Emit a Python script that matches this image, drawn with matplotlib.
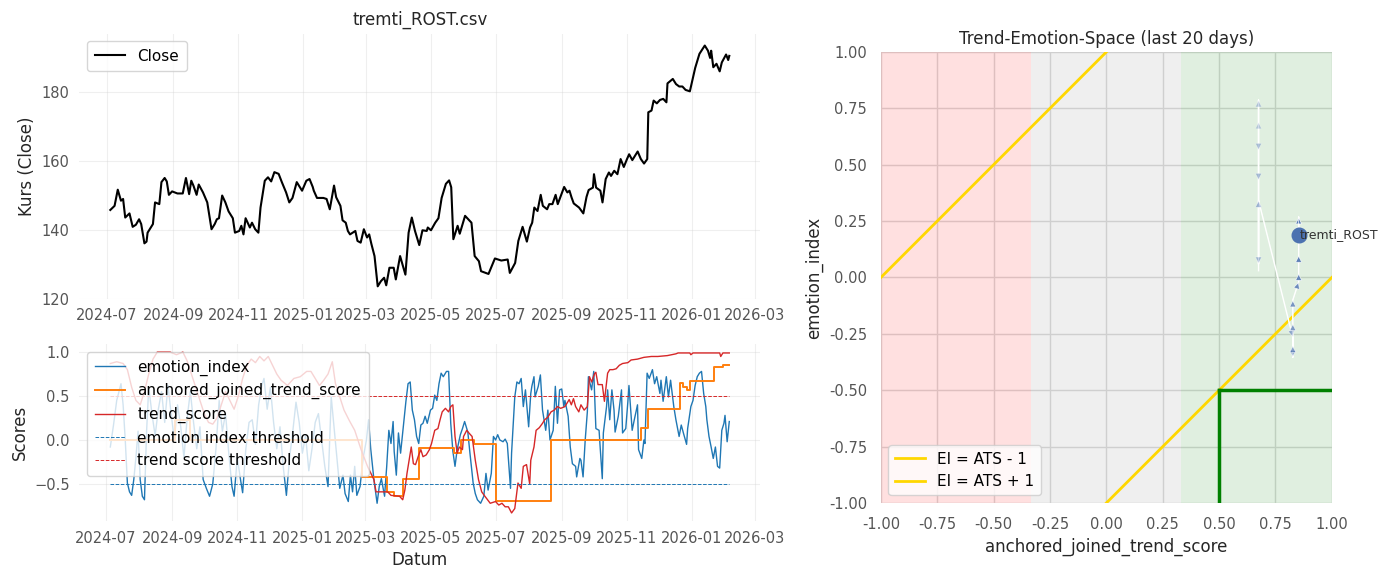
import matplotlib
matplotlib.use('Agg')
import matplotlib.pyplot as plt
import matplotlib.dates as mdates
import numpy as np
import pandas as pd

plt.rcParams['font.family'] = ['DejaVu Sans']

base = pd.Timestamp('2024-07-01')

# Kurs (Close): Tage seit base, Werte
close_day = [3, 7, 10, 13, 15, 17, 21, 24, 27, 30, 32, 35, 37, 38, 43, 45, 49, 51, 54, 56, 58, 61, 66, 71, 74, 77,
             79, 81, 84, 86, 90, 94, 98, 101, 103, 105, 108, 111, 114, 118, 120, 124, 126, 128, 130, 134, 136, 139,
             142, 144, 148, 151, 154, 157, 161, 164, 168, 171, 174, 178, 183, 187, 190, 193, 194, 197, 203, 206,
             209, 213, 215, 219, 221, 224, 226, 228, 233, 235, 238, 241, 244, 246, 248, 251, 254, 257, 260, 262,
             265, 269, 271, 275, 280, 283, 286, 289, 293, 296, 300, 301, 304, 308, 311, 314, 318, 321, 323, 325,
             329, 331, 336, 339, 342, 345, 349, 351, 358, 364, 370, 376, 378, 383, 386, 390, 394, 397, 399, 401,
             404, 407, 409, 413, 415, 418, 421, 423, 429, 432, 434, 436, 438, 443, 447, 450, 452, 456, 457, 459,
             463, 465, 468, 471, 473, 476, 479, 482, 485, 488, 490, 493, 498, 501, 504, 507, 508, 511, 513, 516,
             519, 522, 525, 526, 531, 534, 537, 540, 543, 547, 550, 552, 556, 561, 564, 566, 567, 569, 572, 575,
             577, 581, 583, 584]
close_val = [145.8, 147.0, 151.7, 148.5, 149.0, 143.6, 144.8, 140.9, 141.5, 143.1, 141.7, 136.1, 136.6, 139.2,
             141.7, 148.0, 147.5, 153.9, 155.1, 154.1, 150.2, 151.2, 150.6, 150.6, 155.1, 150.4, 154.3, 152.9,
             150.2, 153.2, 150.9, 148.0, 140.2, 141.7, 143.1, 143.4, 150.0, 148.0, 145.4, 143.4, 139.2, 139.7,
             141.2, 138.7, 143.4, 140.7, 142.1, 140.2, 139.2, 146.5, 154.3, 155.3, 154.1, 156.8, 156.3, 153.9,
             150.9, 148.0, 149.3, 153.9, 151.4, 154.3, 154.8, 152.5, 151.4, 149.3, 149.3, 149.0, 146.0, 152.9,
             149.5, 147.0, 142.8, 142.1, 139.7, 138.7, 139.7, 136.8, 136.3, 140.2, 137.8, 138.7, 136.0, 132.4,
             123.6, 125.1, 126.1, 123.9, 129.0, 129.0, 125.6, 132.4, 127.0, 139.2, 143.6, 139.7, 135.6, 139.9,
             139.7, 140.7, 139.9, 142.1, 143.4, 149.3, 153.4, 154.4, 152.4, 137.3, 141.2, 138.9, 144.1, 143.1,
             142.1, 132.4, 130.9, 128.0, 127.2, 131.7, 131.1, 131.4, 127.5, 130.4, 136.8, 140.9, 136.6, 140.7,
             142.1, 146.5, 145.5, 150.2, 147.0, 146.0, 147.5, 147.5, 150.2, 147.5, 152.5, 150.9, 151.4, 149.4,
             147.7, 146.5, 144.8, 149.6, 151.6, 152.3, 156.2, 152.3, 151.4, 148.0, 154.8, 156.7, 155.7, 157.2,
             156.2, 160.6, 158.3, 160.6, 162.0, 160.3, 162.8, 160.6, 159.3, 160.6, 174.2, 174.7, 177.6, 176.8,
             177.8, 178.1, 177.1, 182.6, 183.9, 182.4, 181.7, 181.7, 180.7, 180.3, 184.4, 187.1, 191.2, 193.6,
             192.1, 190.0, 192.1, 187.3, 188.3, 186.1, 188.7, 191.0, 189.4, 190.6]

# emotion_index
ei_day = [4, 7, 10, 14, 16, 18, 20, 22, 24, 26, 28, 30, 32, 34, 36, 38, 40, 43, 46, 49, 52, 55, 58, 61, 64, 67,
          70, 73, 76, 79, 82, 85, 88, 91, 94, 97, 100, 103, 106, 109, 112, 115, 118, 120, 123, 126, 128, 131, 134,
          137, 140, 143, 146, 148, 151, 154, 157, 160, 163, 166, 169, 172, 175, 178, 181, 184, 187, 190, 193, 196,
          199, 202, 205, 208, 211, 214, 217, 219, 222, 224, 227, 229, 231, 233, 235, 238, 241, 244, 246, 248,
          251, 254, 256, 258, 261, 263, 265, 267, 269, 270, 272, 274, 276, 279, 281, 283, 285, 287, 289, 291,
          293, 295, 297, 299, 301, 304, 306, 308, 310, 312, 314, 316, 319, 321, 323, 325, 327, 329, 332, 334,
          336, 339, 341, 344, 346, 348, 351, 354, 356, 358, 361, 363, 365, 367, 369, 372, 374, 376, 379, 380,
          383, 385, 387, 389, 391, 393, 396, 398, 399, 401, 402, 405, 407, 409, 412, 414, 416, 419, 421, 423,
          425, 427, 429, 430, 433, 435, 437, 440, 441, 444, 445, 447, 449, 451, 452, 455, 457, 459, 462, 463,
          465, 466, 469, 470, 472, 474, 476, 477, 480, 483, 484, 487, 489, 490, 493, 495, 498, 499, 502, 504,
          505, 507, 509, 512, 514, 516, 519, 520, 522, 525, 527, 529, 532, 534, 537, 539, 541, 544, 545, 548,
          550, 552, 554, 556, 558, 560, 562, 563, 565, 567, 569, 571, 573, 575, 577, 579, 580, 582, 584]
ei_val = [-0.08, 0.17, 0.45, 0.64, 0.40, 0.00, -0.49, -0.59, -0.63, -0.45, -0.20, 0.10, -0.45, -0.64, -0.68,
          0.10, 0.60, 0.30, 0.05, 0.35, 0.55, 0.20, 0.62, 0.30, 0.00, 0.40, 0.15, -0.20, 0.25, 0.55, 0.20, -0.10,
          0.15, -0.45, -0.55, -0.64, -0.50, -0.10, 0.45, 0.10, 0.30, -0.15, -0.53, -0.64, -0.20, -0.45, -0.60,
          -0.10, 0.20, 0.23, -0.05, 0.40, 0.62, 0.70, 0.35, 0.60, 0.20, -0.10, 0.15, -0.30, -0.63, -0.20, 0.10,
          0.43, 0.20, -0.15, 0.05, -0.35, -0.10, 0.20, 0.30, 0.00, -0.30, -0.53, 0.49, 0.10, -0.30, -0.55, -0.40,
          -0.61, -0.70, -0.40, -0.59, -0.30, -0.63, -0.53, -0.20, 0.00, 0.23, -0.10,
          -0.45, -0.72, -0.53, -0.44, -0.64, -0.30, 0.11, -0.04, 0.21, -0.13, -0.40, 0.08, -0.15, 0.21, 0.44,
          0.64, 0.66, 0.34, 0.23, 0.04, -0.04, 0.17, 0.19, 0.27, 0.19, 0.34, 0.36, 0.51, 0.45, 0.64, 0.76, 0.72,
          0.78, 0.78, 0.19, -0.13, -0.30, -0.11, 0.06, 0.13, 0.21, 0.09, -0.15, -0.49, -0.61, -0.68, -0.72,
          -0.64, -0.38, -0.57, -0.38, 0.04, 0.00, 0.06, 0.00, -0.02, 0.01, -0.04, -0.55, -0.15, 0.49, 0.66, 0.64,
          0.70, 0.38, 0.57, 0.15, 0.53, 0.61, 0.72, 0.49, 0.61, 0.74, 0.34, 0.11, 0.34, 0.00, 0.11, 0.61, 0.19,
          0.57, 0.58, 0.38, 0.45, 0.27, -0.08, -0.27, -0.30, -0.42, -0.21, -0.23, -0.42, 0.00, 0.32, 0.72, 0.57,
          0.78, 0.13, 0.11, -0.08, -0.44, 0.08, 0.38, 0.57, 0.23, 0.57, 0.34, 0.09, 0.27, 0.57, 0.08, 0.13, 0.44,
          0.62, 0.11, 0.23, 0.40, -0.11, -0.21, 0.00, -0.04, 0.76, 0.70, 0.80, 0.64, 0.72, 0.53, 0.68, 0.44, 0.72,
          0.49, 0.68, 0.38, 0.23, 0.04, 0.17, 0.08, -0.05, 0.13, 0.38, 0.45, 0.62, 0.72, 0.76, 0.78, 0.53, 0.38,
          0.23, 0.04, -0.08, -0.21, -0.08, -0.30, -0.32, 0.11, 0.19, 0.28, -0.02, 0.21]

# trend_score
ts_day = [4, 10, 16, 20, 24, 28, 32, 36, 40, 44, 48, 60, 66, 72, 76, 80, 84, 88, 92, 96, 100, 104, 108, 112, 116,
          120, 124, 128, 132, 136, 140, 144, 148, 152, 156, 160, 164, 170, 176, 182, 188, 192, 196, 200, 204, 208,
          212, 215, 220, 223, 228, 233, 239, 245, 251, 253, 259, 264, 267, 275, 278, 280, 282, 285, 286, 288, 290,
          293, 295, 297, 300, 303, 305, 308, 311, 313, 315, 318, 321, 323, 325, 327, 329, 331, 334, 335, 338, 340,
          343, 346, 349, 352, 355, 360, 365, 368, 371, 374, 377, 380, 383, 386, 389, 391, 394, 397, 398, 401, 403,
          406, 409, 411, 414, 417, 420, 423, 426, 430, 432, 434, 436, 438, 440, 443, 445, 448, 451, 453, 455, 458,
          459, 461, 465, 467, 470, 472, 475, 478, 481, 484, 489, 492, 498, 504, 511, 517, 526, 534, 536, 547, 548,
          550, 575, 576, 578, 584]
ts_val = [0.87, 0.89, 0.87, 0.80, 0.60, 0.45, 0.40, 0.55, 0.75, 0.92, 1.00, 1.00, 0.97, 1.00, 0.90, 0.75, 0.60,
          0.45, 0.30, 0.20, 0.18, 0.25, 0.40, 0.55, 0.45, 0.35, 0.50, 0.70, 0.85, 0.92, 0.88, 0.95, 0.90, 0.95,
          0.85, 0.75, 0.68, 0.62, 0.70, 0.72, 0.78, 0.78, 0.70, 0.62, 0.68, 0.75, 0.89, 0.64, 0.45, 0.34, 0.22,
          0.11, -0.11, -0.30, -0.45, -0.59, -0.59, -0.59, -0.63, -0.64, -0.68, -0.57, -0.38, -0.15, -0.08, -0.27,
          -0.28, -0.17, -0.11, -0.19, -0.17, -0.11, -0.04, 0.11, 0.13, 0.23, 0.32, 0.36, 0.32, 0.38, 0.40, 0.04,
          -0.15, -0.08, -0.11, 0.04, 0.11, 0.08, 0.04, -0.23, -0.45, -0.59, -0.64, -0.72, -0.70, -0.74, -0.72,
          -0.76, -0.76, -0.83, -0.78, -0.49, -0.55, -0.30, -0.28, -0.50, -0.23, -0.08, 0.11, 0.14, 0.19, 0.23,
          0.26, 0.32, 0.34, 0.38, 0.36, 0.38, 0.42, 0.46, 0.40, 0.47, 0.38, 0.32, 0.40, 0.34, 0.38, 0.72, 0.66,
          0.76, 0.77, 0.63, 0.63, 0.44, 0.76, 0.80, 0.80, 0.81, 0.85, 0.87, 0.88, 0.91, 0.92, 0.94, 0.95, 0.95,
          0.96, 0.98, 0.99, 0.99, 0.97, 0.99, 0.99, 0.95, 0.99, 0.99]

# anchored_joined_trend_score (Stufen)
ats_day = [4, 65, 79, 240, 263, 270, 278, 293, 326, 333, 345, 365, 417, 501, 508, 538, 541, 544, 547, 570, 578, 584]
ats_val = [0.0, 0.23, 0.0, -0.42, -0.59, -0.64, -0.44, -0.09, -0.15, 0.0, -0.045, -0.69, 0.0, 0.14, 0.35, 0.65,
           0.60, 0.57, 0.675, 0.827, 0.853, 0.853]

ei_threshold = -0.5
ts_threshold = 0.5

# letzte 20 Tage im Trend-Emotion-Raum
traj_ats = [0.675, 0.675, 0.675, 0.675, 0.675, 0.675, 0.675, 0.675, 0.827, 0.827, 0.827, 0.827, 0.827, 0.827,
            0.853, 0.853, 0.853, 0.853, 0.853, 0.853]
traj_ei = [0.03, 0.69, 0.787, 0.564, 0.431, 0.06, 0.342, 0.342, -0.265, -0.354, -0.302, -0.205, -0.10, -0.10,
           -0.02, 0.018, 0.098, 0.268, 0.268, 0.19]
ticker = 'tremti_ROST'

close_dates = base + pd.to_timedelta(close_day, unit='D')
ei_dates = base + pd.to_timedelta(ei_day, unit='D')
ts_dates = base + pd.to_timedelta(ts_day, unit='D')
ats_dates = base + pd.to_timedelta(ats_day, unit='D')

tick_col = '#555555'
txt_col = '#262626'

fig = plt.figure(figsize=(13.85, 5.84), dpi=100)
ax1 = fig.add_axes([0.0573, 0.4885, 0.4916, 0.4541])
ax2 = fig.add_axes([0.0573, 0.1079, 0.4916, 0.303])
ax3 = fig.add_axes([0.636, 0.1387, 0.3256, 0.7723])

for ax in (ax1, ax2, ax3):
    for s in ax.spines.values():
        s.set_visible(False)
    ax.set_axisbelow(True)

# 1. Kurs
ax1.plot(close_dates, close_val, color='black', lw=1.5, label='Close')
ax1.set_title('tremti_ROST.csv', fontsize=12, color=txt_col)
ax1.set_ylabel('Kurs (Close)', fontsize=12, color=txt_col)
ax1.set_yticks([120, 140, 160, 180])
ax1.legend(loc='upper left', fontsize=11, borderpad=0.5)

# 2. Scores
ax2.plot(ei_dates, ei_val, color='#1f77b4', lw=1, label='emotion_index')
ax2.plot(ats_dates, ats_val, color='#ff7f0e', lw=1.4, drawstyle='steps-post', label='anchored_joined_trend_score')
ax2.plot(ts_dates, ts_val, color='#d62728', lw=1, label='trend_score')
ax2.plot([ei_dates[0], ei_dates[-1]], [ei_threshold, ei_threshold], color='#1f77b4', lw=0.7, ls='--',
         label='emotion index threshold')
ax2.plot([ei_dates[0], ei_dates[-1]], [ts_threshold, ts_threshold], color='#d62728', lw=0.7, ls='--',
         label='trend score threshold')
ax2.set_xlabel('Datum', fontsize=12, color=txt_col)
ax2.set_ylabel('Scores', fontsize=12, color=txt_col)
ax2.set_yticks([-0.5, 0.0, 0.5, 1.0])
ax2.legend(loc='upper left', fontsize=11, borderpad=0.5)

for ax in (ax1, ax2):
    ax.xaxis.set_major_locator(mdates.MonthLocator(bymonth=[1, 3, 5, 7, 9, 11]))
    ax.xaxis.set_major_formatter(mdates.DateFormatter('%Y-%m'))
    ax.grid(True, color='#cccccc', alpha=0.3, lw=0.8)
    ax.tick_params(length=0, labelsize=10.5, colors=tick_col, pad=7)

# 3. Trend-Emotion-Space
ax3.axvspan(-1, -1/3, color='red', alpha=0.12, lw=0)
ax3.axvspan(-1/3, 1/3, color='gray', alpha=0.12, lw=0)
ax3.axvspan(1/3, 1, color='green', alpha=0.12, lw=0)
xs = np.array([-1.0, 1.0])
ax3.plot(xs, xs - 1, color='gold', lw=2, label='EI = ATS - 1')
ax3.plot(xs, xs + 1, color='gold', lw=2, label='EI = ATS + 1')
ax3.plot([0.5, 0.5], [-1, -0.5], color='green', lw=2.5)
ax3.plot([0.5, 1.0], [-0.5, -0.5], color='green', lw=2.5)

ax3.plot(traj_ats, traj_ei, color='white', lw=1, zorder=3)
alphas = np.linspace(0.35, 1.0, len(traj_ats) - 1)
for i in range(len(traj_ats) - 1):
    if traj_ats[i] == traj_ats[i + 1] and traj_ei[i] == traj_ei[i + 1]:
        continue
    ax3.annotate('', xy=(traj_ats[i + 1], traj_ei[i + 1]), xytext=(traj_ats[i], traj_ei[i]),
                 arrowprops=dict(arrowstyle='-|>', fc='#4c72b0', ec='white', lw=0.5, alpha=alphas[i],
                                 mutation_scale=11, shrinkA=0, shrinkB=0), zorder=4)
ax3.scatter([traj_ats[-1]], [traj_ei[-1]], s=110, color='#4c72b0', zorder=5)
ax3.text(traj_ats[-1] + 0.005, traj_ei[-1], ticker, fontsize=9, va='center', color='#333333', zorder=6)

ax3.set_xlim(-1, 1)
ax3.set_ylim(-1, 1)
ax3.set_xticks(np.arange(-1, 1.01, 0.25))
ax3.set_yticks(np.arange(-1, 1.01, 0.25))
ax3.xaxis.set_major_formatter(matplotlib.ticker.FormatStrFormatter('%.2f'))
ax3.yaxis.set_major_formatter(matplotlib.ticker.FormatStrFormatter('%.2f'))
ax3.grid(True, color='#dadada', lw=1)
ax3.tick_params(length=0, labelsize=10.5, colors=tick_col, pad=10)
ax3.set_title('Trend-Emotion-Space (last 20 days)', fontsize=12, color=txt_col)
ax3.set_xlabel('anchored_joined_trend_score', fontsize=12, color=txt_col)
ax3.set_ylabel('emotion_index', fontsize=12, color=txt_col)
ax3.legend(loc='lower left', fontsize=11)

fig.savefig('out.png', dpi=100)
